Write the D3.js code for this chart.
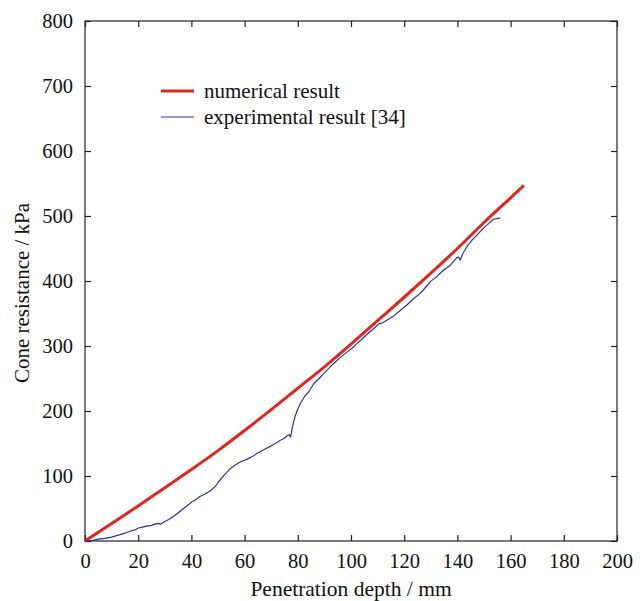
<!DOCTYPE html>
<html>
<head>
<meta charset="utf-8">
<script src="https://cdn.jsdelivr.net/npm/d3@7"></script>
<style>
  body { margin: 0; background: #fff; }
  svg text { font-family: "Liberation Serif", "DejaVu Serif", serif; fill: #111; }
</style>
</head>
<body>
<svg id="drawing_region"></svg>
<script>
// numerical result (depth mm, resistance kPa)
const numDepth = [0, 10, 20, 30, 40, 50, 60, 70, 80, 90, 100, 110, 120, 130, 140, 150, 160, 165];
const numValue = [0, 27, 54, 82, 110, 139, 170, 202, 235, 268, 303, 339, 375, 412, 450, 490, 528, 547];

// experimental result [34]
const expDepth = [0, 3, 5, 7.5, 10, 12.5, 15, 17, 18.8, 20, 21.3, 23, 25, 26.3, 27.5, 28.5, 30, 31.5, 33, 35, 37, 39, 40, 41.5, 43, 45, 47, 49, 50, 51, 52.5, 54.8, 56.5, 58.5, 61, 62.5, 64.8, 67, 69.8, 71.5, 73.5, 75, 76, 76.8, 77.3, 78, 79, 80, 81, 82.5, 84.2, 86, 88, 89.8, 92, 94.8, 96.5, 98.6, 100.5, 102.3, 104, 106, 108.6, 110.5, 112, 113.6, 116, 118.6, 121, 123.6, 126, 128, 129.8, 132, 134.8, 137, 139.8, 140.5, 141, 142, 143.6, 145.5, 147.4, 149, 151.1, 152.5, 153.6, 155, 156.1];
const expValue = [0, 1, 3, 4, 6, 9, 12, 15, 17, 20, 21, 23, 24, 26, 27, 26, 30, 33, 37, 43, 50, 56, 60, 63, 68, 72, 77, 84, 90, 95, 102, 112, 117, 122, 126, 129, 135, 140, 146, 150, 155, 158, 162, 164, 160, 176, 192, 203, 212, 222, 230, 242, 250, 258, 267, 278, 284, 291, 297, 304, 310, 318, 327, 334, 336, 340, 346, 355, 363, 373, 381, 390, 399, 406, 417, 423, 436, 437, 432, 442, 453, 463, 471, 478, 486, 491, 495, 496, 497];

const xTicks = [0, 20, 40, 60, 80, 100, 120, 140, 160, 180, 200];
const yTicks = [0, 100, 200, 300, 400, 500, 600, 700, 800];

const seriesNames = ["numerical result", "experimental result [34]"];
const seriesColors = ["#e2261c", "#2a3596"];

const W = 642, H = 601;
const margin = {top: 21, right: 25, bottom: 60, left: 85};

const svg = d3.select("#drawing_region")
    .attr("width", W)
    .attr("height", H);

const x = d3.scaleLinear().domain([0, 200]).range([margin.left, W - margin.right]);
const y = d3.scaleLinear().domain([0, 800]).range([H - margin.bottom, margin.top]);

// frame
svg.append("rect")
    .attr("x", x(0)).attr("y", y(800))
    .attr("width", x(200) - x(0)).attr("height", y(0) - y(800))
    .attr("fill", "none").attr("stroke", "#333").attr("stroke-width", 1.3);

// inward ticks on all four sides
const tickLen = 6;
const fmt = d3.format("d");
function addAxis(axis, tx, ty, labels) {
    const g = svg.append("g").attr("transform", `translate(${tx},${ty})`).call(axis);
    g.select(".domain").remove();
    g.selectAll(".tick line").attr("stroke", "#222").attr("stroke-width", 1.2);
    if (labels) {
        g.selectAll(".tick text").style("font-size", "20.5px").style("font-family", "Liberation Serif, serif").attr("fill", "#111");
    } else {
        g.selectAll(".tick text").remove();
    }
    return g;
}
addAxis(d3.axisBottom(x).tickValues(xTicks).tickFormat(fmt).tickSizeInner(-tickLen).tickPadding(12), 0, y(0), true);
addAxis(d3.axisTop(x).tickValues(xTicks).tickSizeInner(-tickLen), 0, y(800), false);
addAxis(d3.axisLeft(y).tickValues(yTicks).tickFormat(fmt).tickSizeInner(-tickLen).tickPadding(12), x(0), 0, true);
addAxis(d3.axisRight(y).tickValues(yTicks).tickSizeInner(-tickLen), x(200), 0, false);

// axis titles
svg.append("text")
    .attr("x", (x(0) + x(200)) / 2).attr("y", 596)
    .attr("text-anchor", "middle")
    .style("font-size", "21.5px")
    .text("Penetration depth / mm");

svg.append("text")
    .attr("transform", `translate(29, ${(y(0) + y(800)) / 2 + 12}) rotate(-90)`)
    .attr("text-anchor", "middle")
    .style("font-size", "21px")
    .text("Cone resistance / kPa");

// lines
const line = d3.line().x(d => x(d[0])).y(d => y(d[1]));

const numData = numDepth.map((d, i) => [d, numValue[i]]);
const expData = expDepth.map((d, i) => [d, expValue[i]]);

svg.append("path")
    .datum(numData)
    .attr("d", d3.line().curve(d3.curveMonotoneX).x(d => x(d[0])).y(d => y(d[1])))
    .attr("fill", "none")
    .attr("stroke", seriesColors[0])
    .attr("stroke-width", 3);

svg.append("path")
    .datum(expData)
    .attr("d", line)
    .attr("fill", "none")
    .attr("stroke", seriesColors[1])
    .attr("stroke-width", 1.2)
    .attr("stroke-linejoin", "round");

// legend
const legend = svg.append("g").attr("transform", "translate(161, 91)");
seriesNames.forEach((name, i) => {
    const row = legend.append("g").attr("transform", `translate(0, ${i * 26})`);
    row.append("line")
        .attr("x1", 0).attr("x2", 33).attr("y1", 0).attr("y2", 0)
        .attr("stroke", seriesColors[i])
        .attr("stroke-width", i === 0 ? 3 : 1.2);
    row.append("text")
        .attr("x", 43).attr("y", 7)
        .style("font-size", "21px")
        .text(name);
});
</script>
</body>
</html>
